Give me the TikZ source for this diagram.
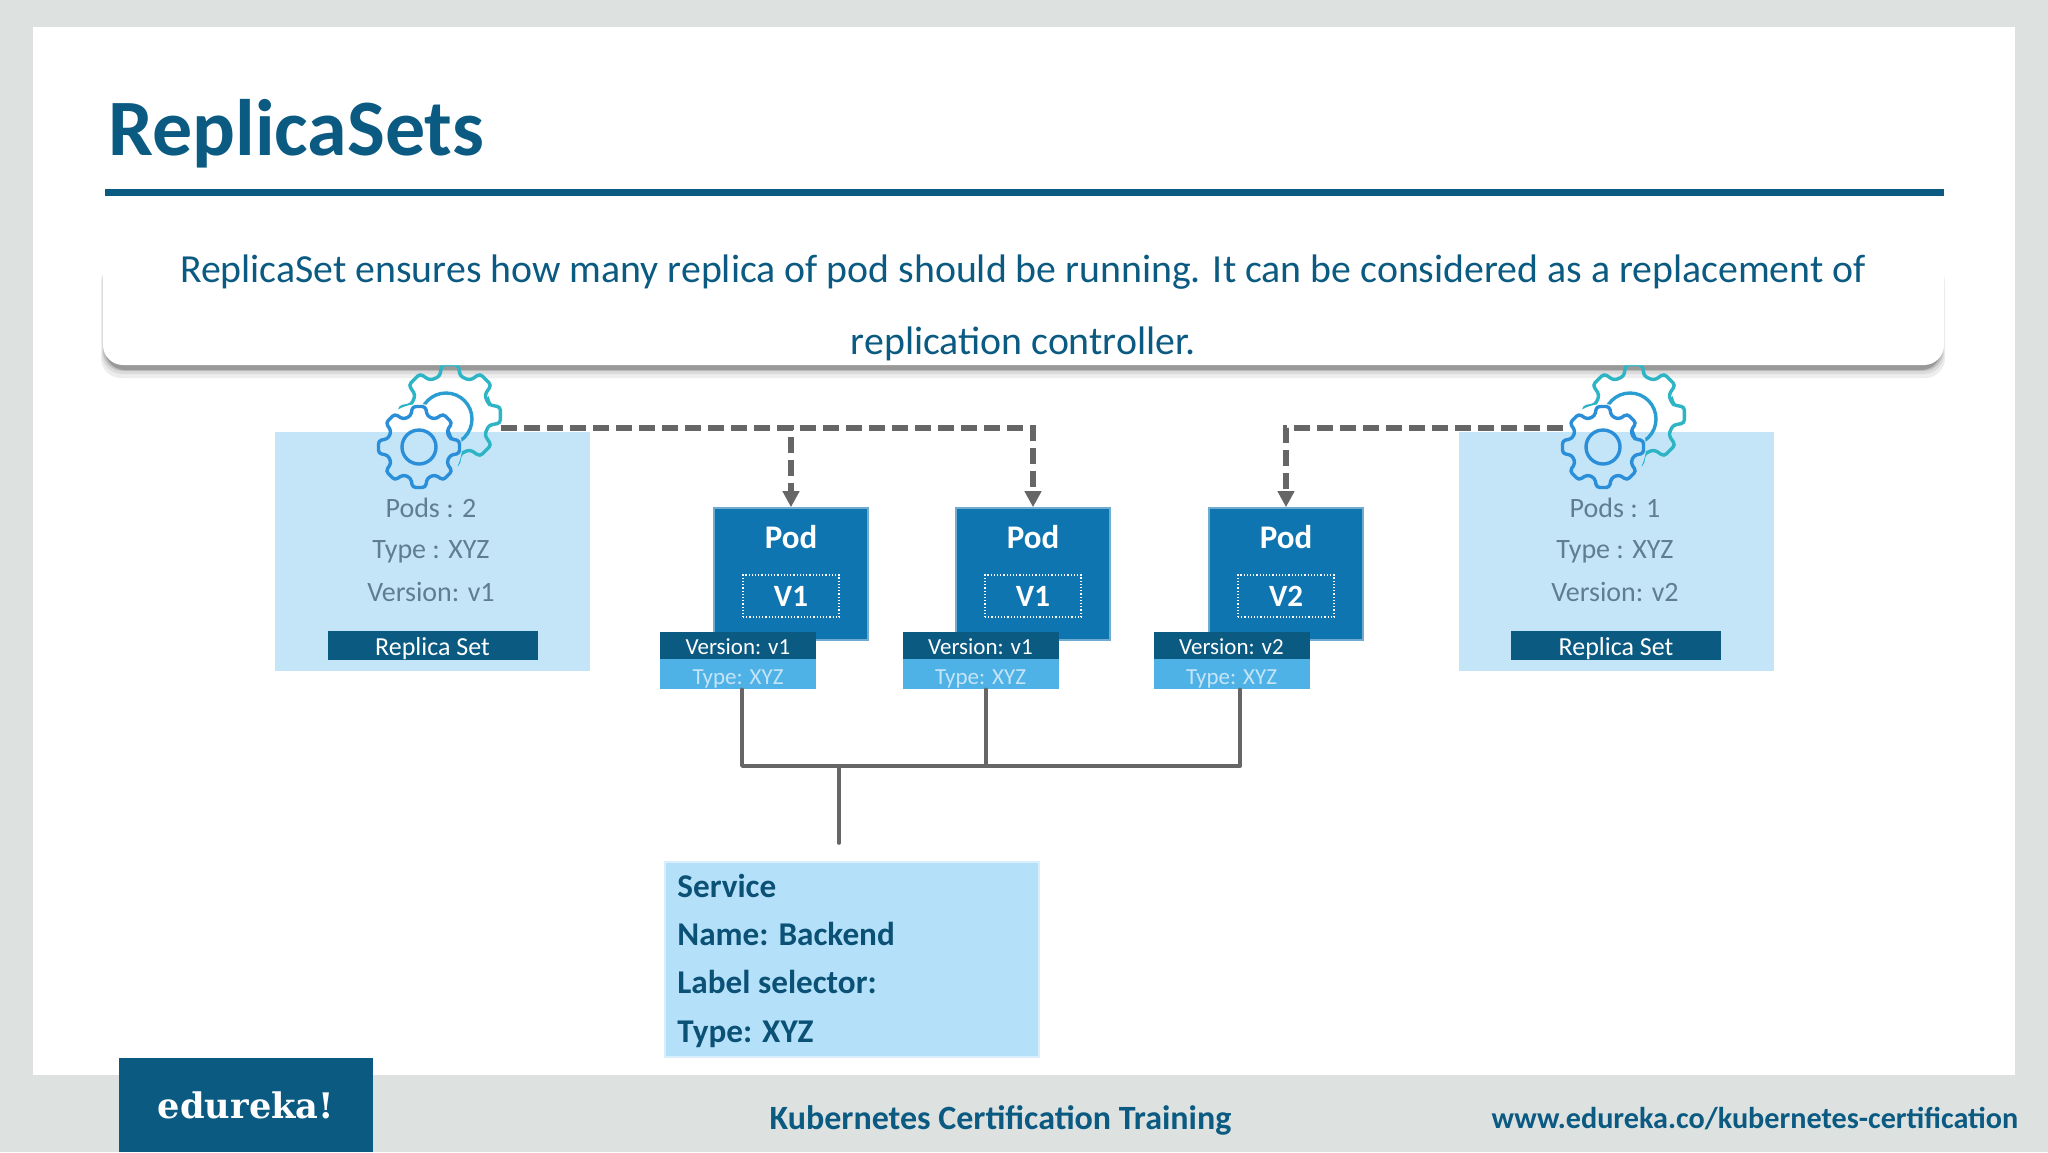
\documentclass[tikz,border=0pt]{standalone}
\usepackage{fontspec}
\setmainfont{Carlito}
\newfontfamily\logofont{DejaVu Serif}
\usetikzlibrary{arrows.meta}
\definecolor{slate}{HTML}{DDE2E1}
\definecolor{teal}{HTML}{0B5A82}
\definecolor{paleblue}{HTML}{C4E4F8}
\definecolor{svcblue}{HTML}{B5E0FA}
\definecolor{podblue}{HTML}{0F75B0}
\definecolor{typeblue}{HTML}{4FB2E6}
\definecolor{wiregray}{HTML}{666666}
\definecolor{greytext}{HTML}{5F7F90}
\definecolor{cogteal}{HTML}{2DB5C6}
\definecolor{cogblue}{HTML}{2A8FD8}
\tikzset{
    plain/.style={draw=none, inner sep=0pt},
    rsbox/.style={plain, fill=paleblue, minimum width=157.5pt, minimum height=119.5pt},
    rsname/.style={plain, fill=teal, text=white, minimum width=105pt, text height=12.5pt, text depth=2pt, font=\fontsize{13}{15}\selectfont},
    rsline/.style={plain, text=greytext, font=\fontsize{14}{16}\selectfont},
    podbox/.style={draw=podblue!60, line width=0.8pt, fill=podblue, inner sep=0pt, minimum width=77pt, minimum height=66pt},
    podname/.style={plain, text=white, font=\bfseries\fontsize{16.5}{18}\selectfont},
    verbox/.style={draw=white, densely dotted, line width=0.6pt, inner sep=0pt, text=white, minimum width=48pt, minimum height=21pt, font=\bfseries\fontsize{15.5}{18}\selectfont},
    vertag/.style={plain, fill=teal, text=white, minimum width=78pt, text height=11.2pt, text depth=2.3pt, font=\fontsize{11.5}{13}\selectfont},
    typetag/.style={plain, fill=typeblue, text=paleblue, minimum width=78pt, text height=12.5pt, text depth=2.5pt, font=\fontsize{11.5}{13}\selectfont},
    svcline/.style={plain, anchor=west, text=teal!90!black, font=\bfseries\fontsize{16.6}{18}\selectfont},
    dashline/.style={draw=wiregray, line width=2.7pt, dash pattern=on 8pt off 3.5pt},
    dasharrow/.style={dashline, -{Stealth[length=8pt, width=8pt, inset=0pt]}},
    wire/.style={draw=wiregray, line width=1.8pt, line cap=round, line join=round},
    cogline/.style={line width=1.7pt, rounded corners=1.6pt},
    foot/.style={plain, text=teal, font=\bfseries\fontsize{17}{20}\selectfont}
}
% one gear outline round the origin of its scope
\newcommand{\cogpath}[3][]{%
    \draw[cogline, #1] (-15:#3) \foreach \a in {0,45,...,315} {
        -- ({\a-15}:#3) -- ({\a-9}:#2) -- ({\a+9}:#2) -- ({\a+15}:#3)
    } -- cycle;
}
% the pair of gears, the hind one broken where the front one stands
\newcommand{\cogpair}[2]{%
    \begin{scope}[shift={(#1,#2)}]
        \begin{scope}[even odd rule]
            \clip (-120,-120) rectangle (120,120) (0,0) circle (43);
            \begin{scope}[shift={(31,-32)}]
                \cogpath[draw=cogteal]{51}{40}
                \draw[cogline, draw=cogblue!60!cogteal] (-4,4) circle (26);
            \end{scope}
        \end{scope}
        \cogpath[draw=cogblue]{41}{32}
        \draw[cogline, draw=cogblue] (0,0) circle (17);
    \end{scope}
}

\begin{document}
\begin{tikzpicture}[x=0.5pt, y=-0.5pt]
    \useasboundingbox (0,0) rectangle (2048,1152);
    \fill[slate] (0,0) rectangle (2048,1152);
    \fill[white] (32.6,27) rectangle (2015,1075);

    \node (title) at (108,155) [plain, anchor=base west, text=teal, font=\bfseries\fontsize{40}{44}\selectfont] {ReplicaSets};
    \fill[teal] (104.5,189) rectangle (1944,196);

    % replica set boxes
    \node (rs1) at (432,551) [rsbox] {};
    \node (rs2) at (1616,551) [rsbox] {};

    \node (pods1) at (431,508) [rsline] {Pods : 2};
    \node (type1) at (431,552) [rsline] {Type : XYZ};
    \node (ver1) at (431,592) [rsline] {Version: v1};
    \node (name1) at (432.5,645) [rsname] {Replica Set};

    \node (pods2) at (1615,508) [rsline] {Pods : 1};
    \node (type2) at (1615,552) [rsline] {Type : XYZ};
    \node (ver2) at (1615,592) [rsline] {Version: v2};
    \node (name2) at (1616,645) [rsname] {Replica Set};

    % pods with their tags
    \foreach \n/\xx/\tagx/\ver in {1/791/738/V1, 2/1033/980.5/V1, 3/1286/1231.5/V2} {
        \node (pod\n) at (\xx,574) [podbox] {};
        \node (podname\n) at (\xx,537) [podname] {Pod};
        \node (podver\n) at (\xx,596) [verbox] {\ver};
        \node (vertag\n) at (\tagx,645.5) [vertag] {Version: \MakeLowercase{\ver}};
        \node (typetag\n) at (\tagx,674) [typetag] {Type: XYZ};
    }

    % shadow of the callout, under the gears
    \foreach \o/\i/\c in {13/0/7, 9/1/14, 6/2/25, 5/4/40} {
        \fill[black!\c!white, rounded corners=10pt] (101+\i,262) rectangle (1945-\i,365+\o);
    }

    \coordinate (cog1) at (501,428);
    \coordinate (cog2) at (1563,428);
    \draw[dasharrow] (cog1) -| (pod1.north);
    \draw[dasharrow] (cog1) -| (pod2.north);
    \draw[dasharrow] (cog2) -| (pod3.north);

    \cogpair{419}{447}
    \cogpair{1603}{447}

    % service and its bus
    \node (svc) at (851.7,959) [plain, fill=svcblue, draw=svcblue!50, line width=1pt, minimum width=187pt, minimum height=97.5pt] {};
    \node (svc1) at (677,886) [svcline] {Service};
    \node (svc2) at (677,934) [svcline] {Name: Backend};
    \node (svc3) at (677,982) [svcline] {Label selector:};
    \node (svc4) at (677,1034) [svcline] {Type: XYZ};

    \coordinate (bus) at (839,766);
    \coordinate (stem) at (839,843);
    \draw[wire] ([xshift=2pt]typetag1.south) |- (bus);
    \draw[wire] ([xshift=2.7pt]typetag2.south) |- (bus);
    \draw[wire] ([xshift=4.2pt]typetag3.south) |- (bus);
    \draw[wire] (bus) -- (stem);

    % callout
    \node (call) at (1023.5,300) [plain, fill=white, rounded corners=10pt, minimum width=920.5pt, minimum height=65pt] {};
    \node (calltext) at (1023,307.5) [plain, align=center, text=teal, font=\fontsize{19.9}{36}\selectfont] {ReplicaSet ensures how many replica of pod should be running. It can be considered as a replacement of\\replication controller.};

    % footer
    \node (logo) at (246,1105) [plain, fill=teal, minimum width=127.3pt, minimum height=47pt] {};
    \node (logotext) at (246,1105) [plain, text=white, font=\logofont\bfseries\fontsize{17.6}{20}\selectfont] {edureka!};
    \node (course) at (1000.5,1120) [foot] {Kubernetes Certification Training};
    \node (site) at (1755,1119) [foot, font=\bfseries\fontsize{15.1}{20}\selectfont] {www.edureka.co/kubernetes-certification};
\end{tikzpicture}
\end{document}
